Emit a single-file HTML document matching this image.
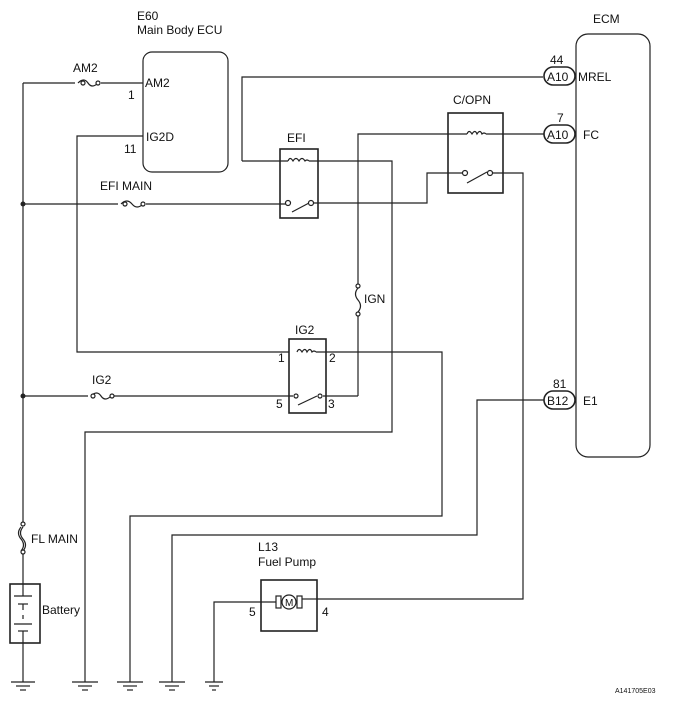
<!DOCTYPE html>
<html><head><meta charset="utf-8"><style>
body{margin:0;background:#fff}
svg{display:block}
text{font-family:"Liberation Sans",sans-serif;font-size:12px;fill:#111}
</style></head><body>
<svg width="676" height="710" viewBox="0 0 676 710" xmlns="http://www.w3.org/2000/svg">
<g stroke="#222" stroke-width="1.2" fill="none">
<!-- main bus -->
<line x1="23" y1="83" x2="23" y2="524"/>
<line x1="23" y1="552" x2="23" y2="584"/>
<line x1="23" y1="643" x2="23" y2="682"/>
<!-- AM2 -->
<line x1="23" y1="83" x2="75" y2="83"/>
<path d="M78,83 q6,-6 10,0 q4,6 10,0"/>
<line x1="101" y1="83" x2="143" y2="83"/>
<!-- ECU -->
<rect x="143" y="52" width="85" height="120" rx="9"/>
<!-- IG2D -->
<polyline points="143,136 77,136 77,352 289,352"/>
<!-- EFI MAIN -->
<line x1="23" y1="204" x2="118" y2="204"/>
<path d="M121,204 q6,-6 11,0 q5,6 11,0"/>
<line x1="146" y1="204" x2="286" y2="204"/>
<!-- EFI relay -->
<rect x="280" y="149" width="38" height="69" stroke-width="1.6"/>
<polyline points="242,161 242,77 543,77"/>
<line x1="242" y1="161" x2="288" y2="161"/>
<path d="M288,161 q2,-5 5,0 q3,-5 6,0 q3,-5 6,0 q2,-2 4,0"/>
<polyline points="309,161 392,161 392,432 85,432 85,682"/>
<line x1="292" y1="212" x2="309" y2="203"/>
<polyline points="313,203 427,203 427,173 462,173"/>
<!-- C/OPN -->
<rect x="448" y="113" width="55" height="80" stroke-width="1.6"/>
<polyline points="358,285 358,134 467,134"/>
<path d="M467,134 q2,-5 5,0 q3,-5 5,0 q3,-5 5,0 q2,-2 4,0"/>
<line x1="486" y1="134" x2="544" y2="134"/>
<line x1="467" y1="183" x2="487" y2="172"/>
<polyline points="493,173 523,173 523,599 317,599"/>
<!-- IGN fuse -->
<path d="M358,288 q-5,6 0,12 q5,6 0,12"/>
<line x1="358" y1="315" x2="358" y2="396"/>
<line x1="323" y1="396" x2="358" y2="396"/>
<!-- IG2 relay -->
<rect x="289" y="339" width="37" height="74" stroke-width="1.6"/>
<path d="M297,352 q2,-5 5,0 q3,-5 5,0 q3,-5 5,0 q2,-2 4,0"/>
<polyline points="316,352 442,352 442,516 130,516 130,682"/>
<line x1="23" y1="396" x2="88" y2="396"/>
<path d="M91,396 q6,-6 10,0 q4,6 10,0"/>
<line x1="114" y1="396" x2="293" y2="396"/>
<line x1="298" y1="405" x2="317" y2="396"/>
<!-- E1 -->
<polyline points="544,400 477,400 477,535 172,535 172,682"/>
<!-- ECM -->
<rect x="576" y="34" width="74" height="423" rx="12"/>
<!-- pump -->
<rect x="261" y="580" width="56" height="51" stroke-width="1.6"/>
<polyline points="276,602 214,602 214,682"/>
<circle cx="289" cy="602" r="7"/>
<rect x="276" y="596" width="5" height="12"/>
<rect x="297" y="596" width="5" height="12"/>
<line x1="302" y1="599" x2="317" y2="599"/>
<!-- FL MAIN -->
<path d="M23,527 q-5,6 0,12 q5,6 0,12 M21,527 q-5,6 0,12 q5,6 0,12"/>
<!-- battery -->
<rect x="10" y="584" width="30" height="59" stroke-width="1.6"/>
<line x1="14" y1="596" x2="32" y2="596"/><line x1="18" y1="604" x2="28" y2="604"/>
<line x1="23" y1="604" x2="23" y2="610"/><line x1="23" y1="615" x2="23" y2="619"/>
<line x1="14" y1="624" x2="32" y2="624"/><line x1="18" y1="631" x2="28" y2="631"/>
<line x1="23" y1="584" x2="23" y2="596"/><line x1="23" y1="631" x2="23" y2="643"/>
</g>
<g fill="#fff" stroke="#222" stroke-width="1.2">
<circle cx="83" cy="83" r="2"/><circle cx="98" cy="83" r="2"/>
<circle cx="125" cy="204" r="2"/><circle cx="143" cy="204" r="2"/>
<circle cx="93" cy="396" r="2"/><circle cx="112" cy="396" r="2"/>
<circle cx="358" cy="286" r="2"/><circle cx="358" cy="314" r="2"/>
<circle cx="23" cy="524" r="2"/><circle cx="23" cy="552" r="2"/>
<circle cx="288" cy="203" r="2.5"/><circle cx="311" cy="203" r="2.5"/>
<circle cx="465" cy="173" r="2.5"/><circle cx="490" cy="173" r="2.5"/>
<circle cx="296" cy="396" r="2"/><circle cx="320" cy="396" r="2"/>
<rect x="544" y="67" width="31" height="18" rx="9" stroke-width="1.6"/>
<rect x="544" y="125" width="31" height="18" rx="9" stroke-width="1.6"/>
<rect x="544" y="391" width="31" height="18" rx="9" stroke-width="1.6"/>
</g>
<g fill="#222"><circle cx="23" cy="204" r="2.5"/><circle cx="23" cy="396" r="2.5"/></g>
<g stroke="#222" stroke-width="1.2">
<line x1="11" y1="682" x2="35" y2="682"/><line x1="16" y1="686" x2="30" y2="686"/><line x1="20" y1="690" x2="26" y2="690"/>
<line x1="72" y1="682" x2="98" y2="682"/><line x1="78" y1="686" x2="92" y2="686"/><line x1="82" y1="690" x2="88" y2="690"/>
<line x1="117" y1="682" x2="143" y2="682"/><line x1="123" y1="686" x2="137" y2="686"/><line x1="127" y1="690" x2="133" y2="690"/>
<line x1="159" y1="682" x2="185" y2="682"/><line x1="165" y1="686" x2="179" y2="686"/><line x1="169" y1="690" x2="175" y2="690"/>
<line x1="205" y1="682" x2="223" y2="682"/><line x1="209" y1="686" x2="219" y2="686"/><line x1="212" y1="690" x2="216" y2="690"/>
</g>
<text x="137" y="20">E60</text><text x="137" y="34">Main Body ECU</text>
<text x="73" y="72">AM2</text><text x="145" y="87">AM2</text><text x="128" y="99">1</text>
<text x="146" y="141">IG2D</text><text x="124" y="153">11</text>
<text x="100" y="190">EFI MAIN</text><text x="287" y="142">EFI</text>
<text x="453" y="104">C/OPN</text><text x="593" y="23">ECM</text>
<text x="550" y="64">44</text><text x="547" y="81">A10</text><text x="578" y="81">MREL</text>
<text x="557" y="122">7</text><text x="547" y="139">A10</text><text x="583" y="139">FC</text>
<text x="553" y="388">81</text><text x="547" y="405">B12</text><text x="583" y="405">E1</text>
<text x="364" y="303">IGN</text><text x="295" y="334">IG2</text>
<text x="278" y="362">1</text><text x="329" y="362">2</text><text x="276" y="408">5</text><text x="328" y="408">3</text>
<text x="92" y="384">IG2</text><text x="31" y="543">FL MAIN</text><text x="42" y="614">Battery</text>
<text x="258" y="551">L13</text><text x="258" y="566">Fuel Pump</text>
<text x="249" y="616">5</text><text x="322" y="616">4</text>
<text x="285" y="606" style="font-size:10px">M</text>
<text x="615" y="693" style="font-size:7px">A141705E03</text>
</svg>
</body></html>
